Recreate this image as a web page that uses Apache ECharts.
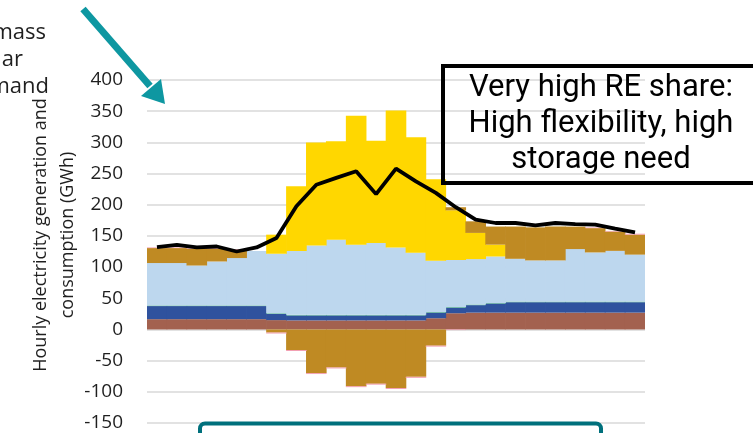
<!DOCTYPE html>
<html>
<head>
<meta charset="utf-8">
<script src="https://cdn.jsdelivr.net/npm/echarts@6/dist/echarts.min.js"></script>
<style>
  html, body { margin: 0; padding: 0; background: #fff; }
  #main { width: 753px; height: 433px; }
</style>
</head>
<body>
<div id="main"></div>
<script>
// hours of the day (25 steps)
var hours = ['0','1','2','3','4','5','6','7','8','9','10','11','12','13','14','15','16','17','18','19','20','21','22','23','24'];

// GWh per hour
var geothermal = [16.5,16.5,16.5,16.5,16.5,16.5,15,14.5,14.5,14.5,14.5,14.5,14.5,14.5,18,26,27,27,27,27,27,27,27,27,27];
var hydro = [21,21,21,21,21,21,10,8,8,8,8,8,8,8,9,9,12,14.6,16.7,16.7,16.7,16.7,16.7,16.7,16.7];
var biomass = [1,1,1,1,1,1,1,1,1,1,1,1,1,1,1,1,1,1,1,1,1,1,1,1,1];
var wind = [68,68,64,70.5,76,87.5,95.4,102.5,111.3,120.4,112.3,115,108,99.5,82,75.5,72.8,74.4,68.6,66,66,84.2,78.8,81.3,75.3];
var solar = [0,0,0,0,0,0,30.6,103.6,165,158,207,164,219.5,185,131,79.5,42,19,0,0,0,0,0,0,0];
var storage = [24,24,26.8,20.4,13.3,0,-5,-33,-70,-61,-91,-87,-94,-76,-26,5,18.6,29,51.7,53,54.4,36,39,31,32];
var other = [1,1,1,1,1,0,-1.5,-1.5,-1.5,-1.5,-1.5,-1.5,-1.5,-1.5,-1.5,-1,0,0,0,0,0,0,1,1,1.5];
var demand = [132,135.8,131.5,133,125,131.5,146.6,197.5,232,243,253.7,217,258,237.6,219,196,176,170.7,170.7,167,170.7,169,168,161.6,155.7];

var yTicks = { min: -150, max: 400, step: 50 };

function stackBar(name, data, color) {
  return {
    name: name,
    type: 'bar',
    stack: 'gen',
    data: data,
    // a bit wider than the band so neighbouring bars overlap, no hairlines
    barWidth: 20.6,
    itemStyle: { color: color },
    silent: true
  };
}

var myChart = echarts.init(document.getElementById('main'));
var option = {
  animation: false,
  grid: { left: 147, right: 108, top: 80, bottom: 10 },
  xAxis: {
    type: 'category',
    data: hours,
    axisLine: { show: false },
    axisTick: { show: false },
    axisLabel: { show: false }
  },
  yAxis: {
    type: 'value',
    min: yTicks.min,
    max: yTicks.max,
    interval: yTicks.step,
    axisLine: { show: false },
    axisTick: { show: false },
    axisLabel: {
      margin: 24,
      color: '#1f1f1f',
      fontSize: 19,
      fontFamily: 'Open Sans'
    },
    splitLine: { lineStyle: { color: '#d9d9d9', width: 1.5 } }
  },
  series: [
    stackBar('Geothermal', geothermal, '#a3614f'),
    stackBar('Hydro', hydro, '#2f529e'),
    stackBar('Biomass', biomass, '#52b58c'),
    stackBar('Wind', wind, '#bdd7ee'),
    stackBar('Solar', solar, '#ffd700'),
    stackBar('Storage', storage, '#bf8a23'),
    stackBar('Other', other, '#f29aae'),
    {
      name: 'Demand',
      type: 'line',
      data: demand,
      symbol: 'none',
      z: 5,
      lineStyle: { color: '#000', width: 3.8 }
    }
  ],
  graphic: [
    // legend entries cut off at the left edge
    { type: 'text', x: 46, y: 33, style: { text: 'Biomass', align: 'right', verticalAlign: 'middle', fontSize: 22, fontFamily: 'Open Sans', fill: '#1f1f1f' } },
    { type: 'text', x: 23, y: 60, style: { text: 'Solar', align: 'right', verticalAlign: 'middle', fontSize: 22, fontFamily: 'Open Sans', fill: '#1f1f1f' } },
    { type: 'text', x: 49, y: 87, style: { text: 'Demand', align: 'right', verticalAlign: 'middle', fontSize: 22, fontFamily: 'Open Sans', fill: '#1f1f1f' } },
    // y axis title
    {
      type: 'text', x: 54, y: 235, rotation: Math.PI / 2,
      style: {
        text: 'Hourly electricity generation and\nconsumption (GWh)',
        align: 'center', verticalAlign: 'middle',
        fontSize: 18, lineHeight: 27, fontFamily: 'Open Sans', fill: '#1f1f1f'
      }
    },
    // teal arrow
    {
      type: 'line', shape: { x1: 83, y1: 9, x2: 150, y2: 86 },
      style: { stroke: '#0e97a1', lineWidth: 7 }, z: 10
    },
    {
      type: 'polygon', shape: { points: [[165, 104], [141, 96], [161, 79]] },
      style: { fill: '#0e97a1' }, z: 10
    },
    // annotation box
    {
      type: 'rect', shape: { x: 443, y: 66, width: 400, height: 117 },
      style: { fill: null, stroke: '#000', lineWidth: 4 }, z: 10
    },
    {
      type: 'text', x: 601, y: 124, z: 11,
      style: {
        text: 'Very high RE share:\nHigh flexibility, high\nstorage need',
        align: 'center', verticalAlign: 'middle',
        fontSize: 31, lineHeight: 36, fontFamily: 'Roboto', fill: '#000'
      }
    },
    // teal box at the bottom
    {
      type: 'rect', shape: { x: 200, y: 423.5, width: 401, height: 60, r: 5 },
      style: { fill: null, stroke: '#00707c', lineWidth: 4 }, z: 10
    }
  ]
};
myChart.setOption(option);
</script>
</body>
</html>
